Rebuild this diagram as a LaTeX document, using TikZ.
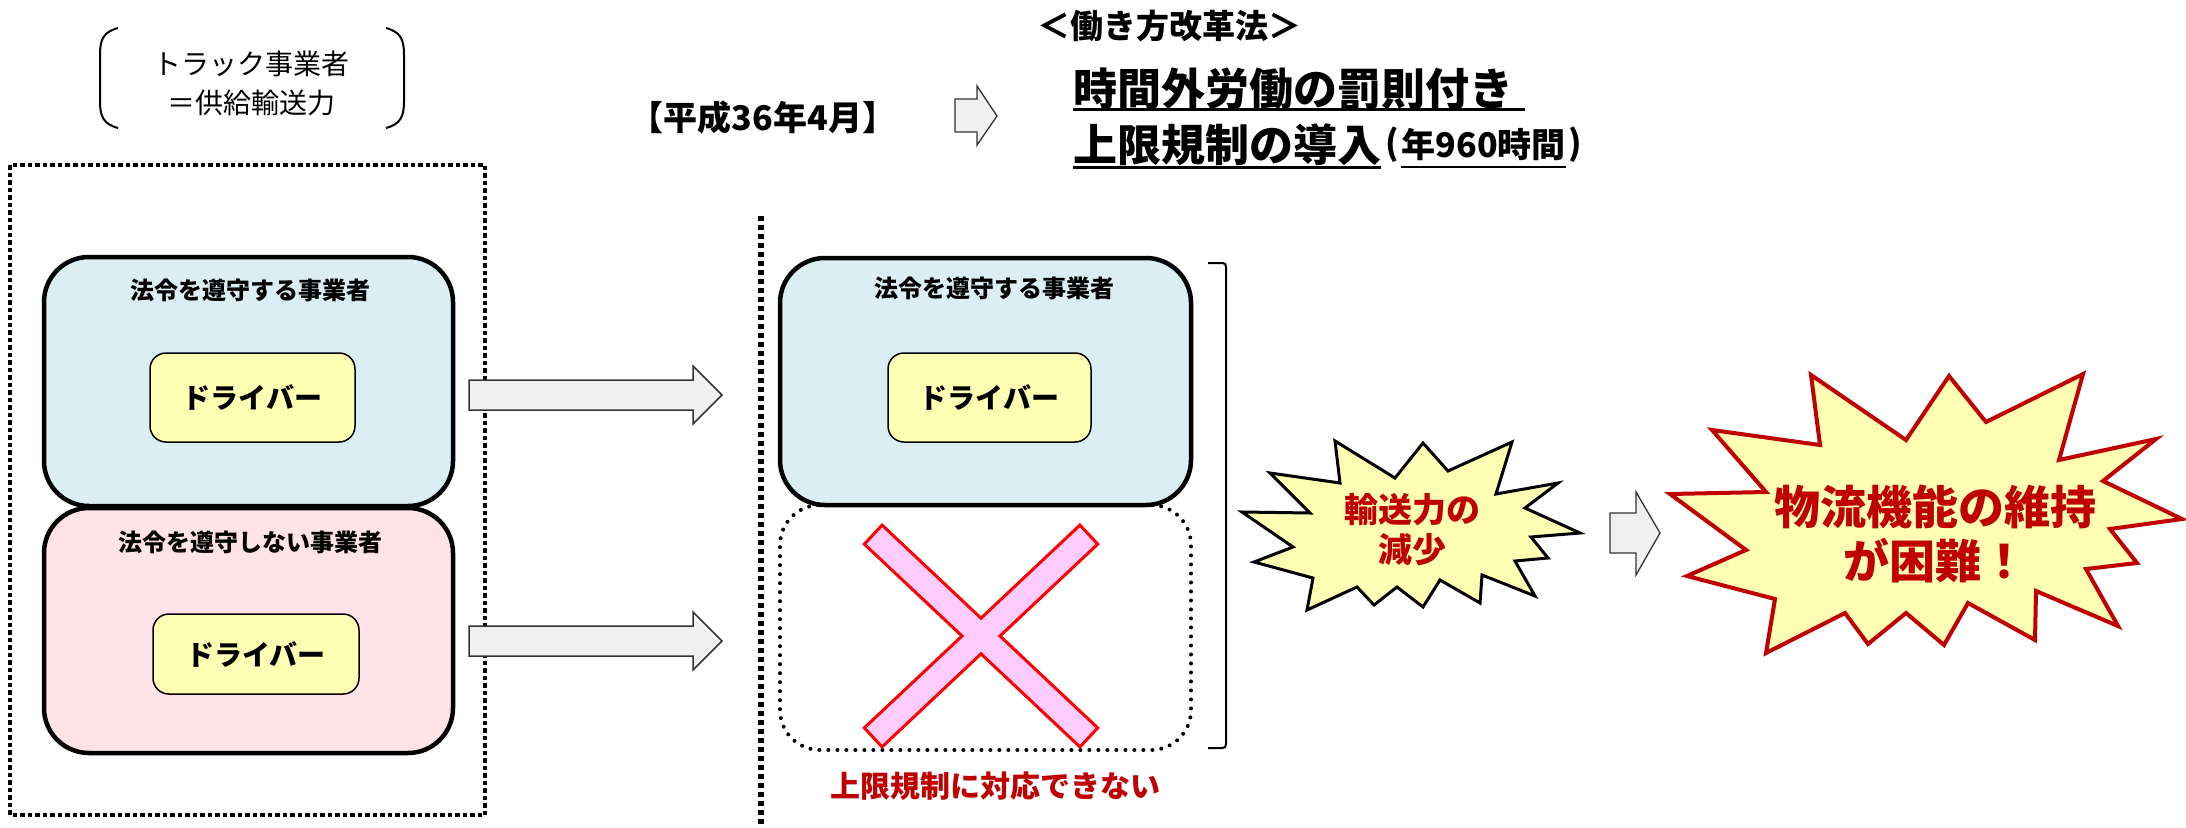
\documentclass[tikz,border=0pt]{standalone}
\usepackage{fontspec}
\setmainfont{Noto Sans CJK JP}
\definecolor{boxblue}{HTML}{DAEEF3}
\definecolor{boxpink}{HTML}{FFE3E6}
\definecolor{pale}{HTML}{FFFFB3}
\definecolor{arrgray}{HTML}{F0F0F0}
\definecolor{xpink}{HTML}{FFCCFF}
\definecolor{darkred}{HTML}{C00000}
\tikzset{
  txt/.style={font=\fontsize{#1}{#1}\selectfont, inner sep=0pt},
  btxt/.style={font=\bfseries\fontsize{#1}{#1}\selectfont, inner sep=0pt},
  bigbox/.style={draw, line width=4.5pt, rounded corners=45pt},
  drvbox/.style={draw, line width=1.5pt, fill=pale, rounded corners=16pt},
  blockarrow/.style={draw=black!80, line width=1.5pt, fill=arrgray, line join=miter},
  sqdots/.style={line width=4.5pt, dash pattern=on 4.5pt off 3pt},
  rddots/.style={line width=4pt, line cap=round, dash pattern=on 0pt off 9pt},
  burst/.style={fill=pale, line join=miter}
}
\begin{document}
\begin{tikzpicture}[x=1pt,y=-1pt]
\useasboundingbox (0,0) rectangle (2186,827);

% --- top-left bracketed caption
\node[txt=28] (cap1) at (251,64) {トラック事業者};
\node[txt=28] (cap2) at (251,103) {＝供給輸送力};
\draw[line width=2pt] (118,28) .. controls (103,32) and (100,40) .. (100,55) -- (100,101) .. controls (100,116) and (103,124) .. (118,128);
\draw[line width=2pt] (386,28) .. controls (401,32) and (404,40) .. (404,55) -- (404,101) .. controls (404,116) and (401,124) .. (386,128);

% --- top date and law
\node[btxt=34] (date) at (763,118) {【平成36年4月】};
\draw[blockarrow, line width=1.3pt] (955,99) -- (977,99) -- (977,86) -- (997,116) -- (977,145) -- (977,132) -- (955,132) -- cycle;
\node[btxt=33] (law) at (1169,26) {＜働き方改革法＞};
\node[btxt=44, anchor=west] (l1) at (1073,89) {時間外労働の罰則付き};
\node[btxt=44, anchor=west] (l2) at (1073,145) {上限規制の導入};
\node[btxt=34, anchor=west] (p1) at ([xshift=4pt]l2.east) {(};
\node[btxt=34, anchor=west] (p2) at ([xshift=2pt]p1.east) {年960時間};
\node[btxt=34, anchor=west] (p3) at ([xshift=2pt]p2.east) {)};
\draw[line width=3pt] (1073,109) -- (1525,109);
\draw[line width=3pt] (1073,167) -- (l2.east |- 0,167);
\draw[line width=2.5pt] (p2.west |- 0,167) -- (p2.east |- 0,167);

% --- left dotted frame
\draw[sqdots] (10,165) rectangle (485,815);
\node[bigbox, fill=boxblue, minimum width=409pt, minimum height=249pt] (blueL) at (248.5,381.5) {};
\node[bigbox, fill=boxpink, minimum width=409pt, minimum height=245pt] (pinkL) at (248.5,630.5) {};
\node[btxt=24] (tL1) at (250,290) {法令を遵守する事業者};
\node[btxt=24] (tL2) at (250,542) {法令を遵守しない事業者};
\node[drvbox, minimum width=205pt, minimum height=89pt] (drvL1) at (252.5,397.5) {};
\node[btxt=28] at (drvL1) {ドライバー};
\node[drvbox, minimum width=206pt, minimum height=80pt] (drvL2) at (256,654) {};
\node[btxt=28] at (drvL2) {ドライバー};

% --- block arrows
\draw[blockarrow] (469,380) -- (693,380) -- (693,366) -- (722,395) -- (693,424) -- (693,410) -- (469,410) -- cycle;
\draw[blockarrow] (469,626) -- (693,626) -- (693,612) -- (722,641) -- (693,670) -- (693,656) -- (469,656) -- cycle;

% --- vertical dotted divider
\coordinate (dv1) at (761,216);
\coordinate (dv2) at (761,827);
\draw[line width=5.5pt, dash pattern=on 5pt off 4pt] (dv1) -- (dv2);

% --- right column
\node[draw, rddots, rounded corners=40pt, minimum width=411pt, minimum height=245pt] (dotR) at (985.5,627.5) {};
\node[bigbox, fill=boxblue, minimum width=411pt, minimum height=247pt] (blueR) at (985.5,381.5) {};
\node[btxt=24] (tR1) at (994,288) {法令を遵守する事業者};
\node[drvbox, minimum width=203pt, minimum height=89pt] (drvR) at (989.5,397.5) {};
\node[btxt=28] at (drvR) {ドライバー};

% red cross
\begin{scope}[shift={(981,636)}]
\draw[draw=red, fill=xpink, line width=3pt, line join=miter]
 (0,-17.8) -- (98.9,-110.9) -- (116.7,-91.9) -- (19,0) -- (116.7,91.9) -- (98.9,110.9)
 -- (0,17.8) -- (-98.9,110.9) -- (-116.7,91.9) -- (-19,0) -- (-116.7,-91.9) -- (-98.9,-110.9) -- cycle;
\end{scope}
\node[btxt=30, text=darkred] (ng) at (995,786) {上限規制に対応できない};

% right bracket
\draw[line width=2pt] (1208,263) -- (1222,263) .. controls (1225,263) and (1226,264) .. (1226,267) -- (1226,744) .. controls (1226,747) and (1225,748) .. (1222,748) -- (1208,748);

% --- starburst 1
\draw[burst, draw=black, line width=3pt]
 (1335,441) -- (1340,483) -- (1270,473) -- (1310,513) -- (1242,512) -- (1293,547) -- (1254,562)
 -- (1313,578) -- (1307,610) -- (1357,587) -- (1374,605) -- (1397,587) -- (1423,607) -- (1440,580)
 -- (1480,603) -- (1482,575) -- (1535,596) -- (1515,561) -- (1548,558) -- (1531,537) -- (1580,533)
 -- (1525,508) -- (1558,483) -- (1496,494) -- (1512,442) -- (1448,471) -- (1423,443) -- (1395,478) -- cycle;
\node[btxt=34, text=darkred, align=center] (burst1) at (1412,530) {輸送力の\\[6pt]減少};

% arrow 2
\draw[blockarrow, line width=1.3pt] (1610,513) -- (1636,513) -- (1636,492) -- (1660,533) -- (1636,575) -- (1636,553) -- (1610,553) -- cycle;

% --- starburst 2
\draw[burst, draw=darkred, line width=4pt]
 (1811,375) -- (1820,445) -- (1712,430) -- (1766,492) -- (1670,494) -- (1746,550) -- (1687,576)
 -- (1775,599) -- (1766,653) -- (1845,613) -- (1868,644) -- (1906,613) -- (1944,645) -- (1968,603)
 -- (2035,640) -- (2036,591) -- (2118,626) -- (2086,569) -- (2137,563) -- (2110,529) -- (2182,519)
 -- (2103,481) -- (2156,439) -- (2059,460) -- (2083,374) -- (1986,422) -- (1949,376) -- (1906,440) -- cycle;
\node[btxt=46, text=darkred, align=center] (burst2) at (1935,534) {物流機能の維持\\[8pt]が困難！};
\end{tikzpicture}
\end{document}
